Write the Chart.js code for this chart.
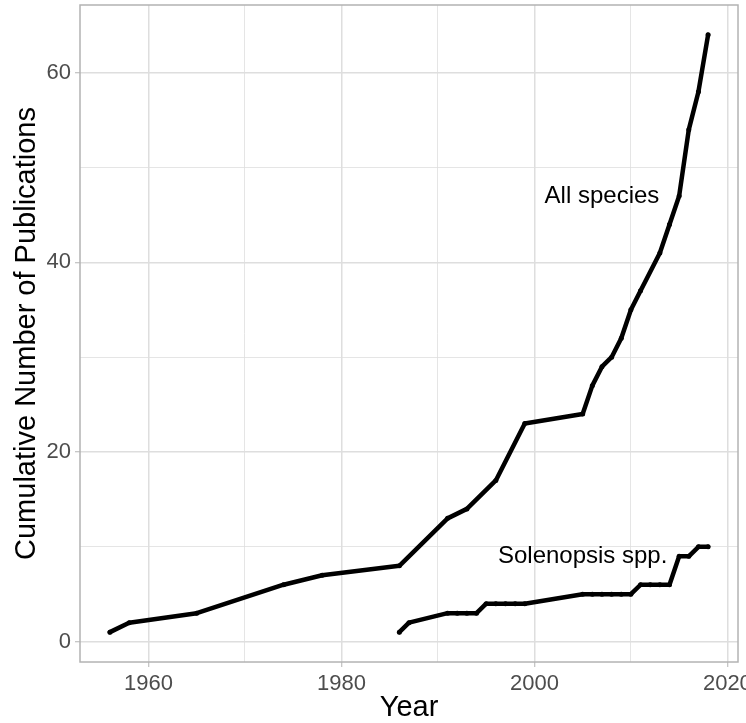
<!DOCTYPE html>
<html>
<head>
<meta charset="utf-8">
<script src="https://cdn.jsdelivr.net/npm/chart.js@4.4.1/dist/chart.umd.min.js"></script>
<style>
    html, body { margin: 0; padding: 0; background: #fff; overflow: hidden; width: 746px; height: 723px; }
    canvas { display: block; }
</style>
</head>
<body>
<canvas id="pubChart" width="746" height="723"></canvas>
<script>
// cumulative publications
const allYears = [1956, 1958, 1965, 1974, 1978, 1986, 1991, 1993, 1996, 1999, 2005, 2006, 2007, 2008, 2009, 2010, 2011, 2013, 2014, 2015, 2016, 2017, 2018];
const allCounts = [1, 2, 3, 6, 7, 8, 13, 14, 17, 23, 24, 27, 29, 30, 32, 35, 37, 41, 44, 47, 54, 58, 64];

const solYears = [1986, 1987, 1991, 1992, 1993, 1994, 1995, 1996, 1997, 1998, 1999, 2005, 2006, 2007, 2008, 2009, 2010, 2011, 2012, 2013, 2014, 2015, 2016, 2017, 2018];
const solCounts = [1, 2, 3, 3, 3, 3, 4, 4, 4, 4, 4, 5, 5, 5, 5, 5, 5, 6, 6, 6, 6, 9, 9, 10, 10];

const xTicks = [1960, 1970, 1980, 1990, 2000, 2010, 2020];
const yTicks = [0, 10, 20, 30, 40, 50, 60];

const labelTexts = ['All species', 'Solenopsis spp.'];
const labelX = [2007, 2005];
const labelY = [47, 9];

const xMin = 1952.9, xMax = 2021.1;
const yMin = -2.15, yMax = 67.15;

function toPoints(xs, ys) {
    return xs.map((x, i) => ({ x: x, y: ys[i] }));
}

const isMajor = (v) => Math.abs(v % 20) < 0.001;

const panelBorder = {
    id: 'panelBorder',
    afterDraw(chart) {
        const a = chart.chartArea;
        const ctx = chart.ctx;
        ctx.save();
        ctx.strokeStyle = '#b3b3b3';
        ctx.lineWidth = 1.5;
        ctx.strokeRect(a.left, a.top, a.right - a.left, a.bottom - a.top);
        ctx.restore();
    }
};

const textLabels = {
    id: 'textLabels',
    afterDatasetsDraw(chart) {
        const ctx = chart.ctx;
        const xs = chart.scales.x, ys = chart.scales.y;
        ctx.save();
        ctx.font = '24px "Liberation Sans", Arial, sans-serif';
        ctx.fillStyle = '#000';
        ctx.textAlign = 'center';
        ctx.textBaseline = 'middle';
        labelTexts.forEach((t, i) => {
            ctx.fillText(t, xs.getPixelForValue(labelX[i]), ys.getPixelForValue(labelY[i]));
        });
        ctx.restore();
    }
};

const lineStyle = {
    showLine: true,
    borderColor: '#000',
    backgroundColor: '#000',
    borderWidth: 4.5,
    borderJoinStyle: 'round',
    borderCapStyle: 'round',
    pointRadius: 2.5,
    pointBorderWidth: 0,
    tension: 0,
};

const fontFamily = '"Liberation Sans", Arial, sans-serif';

function gridStyle() {
    return {
        color: '#dedede',
        lineWidth: (c) => (isMajor(c.tick.value) ? 1.5 : 0.8),
        tickLength: 5,
        tickColor: (c) => (isMajor(c.tick.value) ? '#b3b3b3' : 'rgba(0,0,0,0)'),
        tickWidth: 1,
    };
}

const ctx = document.getElementById('pubChart').getContext('2d');
const chart = new Chart(ctx, {
    type: 'scatter',
    data: {
        datasets: [
            Object.assign({ label: 'All species', data: toPoints(allYears, allCounts) }, lineStyle),
            Object.assign({ label: 'Solenopsis spp.', data: toPoints(solYears, solCounts) }, lineStyle),
        ],
    },
    options: {
        responsive: false,
        animation: false,
        layout: { padding: { top: 5, right: 8, bottom: 0, left: 0 } },
        plugins: {
            legend: { display: false },
            tooltip: { enabled: false },
        },
        scales: {
            x: {
                type: 'linear',
                min: xMin,
                max: xMax,
                afterBuildTicks: (s) => { s.ticks = xTicks.map((v) => ({ value: v })); },
                afterFit: (s) => { s.height = 61; s.paddingLeft = 0; s.paddingRight = 0; },
                ticks: {
                    padding: 4,
                    maxRotation: 0,
                    autoSkip: false,
                    color: '#4d4d4d',
                    font: { family: fontFamily, size: 22 },
                    callback: (v) => (isMajor(v) ? String(v) : ''),
                },
                grid: gridStyle(),
                border: { display: false },
                title: {
                    display: true,
                    text: 'Year',
                    color: '#000',
                    padding: 0.5,
                    font: { family: fontFamily, size: 29, lineHeight: 1 },
                },
            },
            y: {
                min: yMin,
                max: yMax,
                afterBuildTicks: (s) => { s.ticks = yTicks.map((v) => ({ value: v })); },
                afterFit: (s) => { s.width = 80; s.paddingTop = 0; s.paddingBottom = 0; },
                ticks: {
                    padding: 4,
                    autoSkip: false,
                    color: '#4d4d4d',
                    font: { family: fontFamily, size: 22 },
                    callback: (v) => (isMajor(v) ? String(v) : ''),
                },
                grid: gridStyle(),
                border: { display: false },
                title: {
                    display: true,
                    text: 'Cumulative Number of Publications',
                    color: '#000',
                    padding: 12.5,
                    font: { family: fontFamily, size: 29, lineHeight: 1 },
                },
            },
        },
    },
    plugins: [panelBorder, textLabels],
});
</script>
</body>
</html>
